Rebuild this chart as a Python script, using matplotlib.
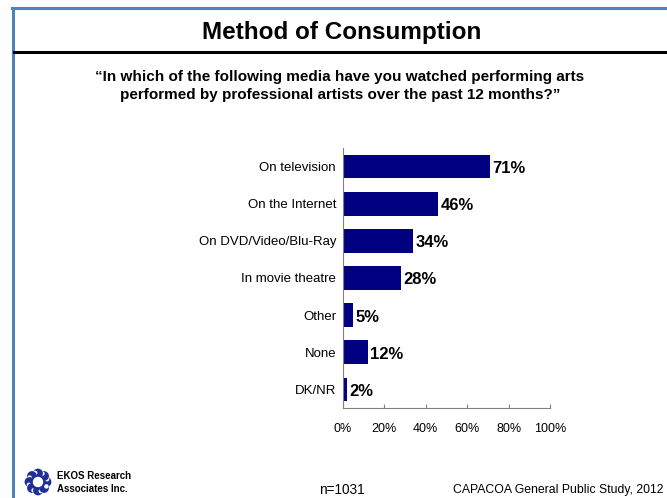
import numpy as np
import matplotlib
matplotlib.use("Agg")
import matplotlib.pyplot as plt
from matplotlib.lines import Line2D
from matplotlib.patches import Circle

plt.rcParams['font.family'] = ['Liberation Sans', 'DejaVu Sans']

# data
categories = ["On television", "On the Internet", "On DVD/Video/Blu-Ray",
              "In movie theatre", "Other", "None", "DK/NR"]
values = [71, 46, 34, 28, 5, 12, 2]
xticks = [0, 20, 40, 60, 80, 100]

W, H = 667, 498
fig = plt.figure(figsize=(W / 100, H / 100), dpi=100)
fig.patch.set_facecolor("white")


def fx(px):
    return px / W


def fy(py):
    return 1 - py / H


# frame lines
fig.add_artist(Line2D([fx(13), fx(13)], [fy(8.5), 0], color="#4F81BD", lw=2.2))
fig.add_artist(Line2D([fx(12), 1], [fy(8.5), fy(8.5)], color="#4F81BD", lw=2.2))
fig.add_artist(Line2D([fx(14), 1], [fy(52.5), fy(52.5)], color="black", lw=2.2))

fig.text(fx(342), fy(32), "Method of Consumption", ha="center", va="center",
         fontsize=17.5, fontweight="bold")
fig.text(fx(340), fy(86), "\u201cIn which of the following media have you watched performing arts\n"
         "performed by professional artists over the past 12 months?\u201d",
         ha="center", va="center", fontsize=11, fontweight="bold", linespacing=1.4)

ax = fig.add_axes([fx(343), fy(408), fx(207), 260 / H])
y = np.arange(len(categories))
ax.barh(y, values, height=0.64, color="#000080")
ax.set_xlim(0, 100)
ax.set_ylim(len(categories) - 0.5, -0.5)
ax.set_yticks(y)
ax.set_yticklabels(categories, fontsize=9.5)
ax.tick_params(axis="y", length=0, pad=5)
ax.set_xticks(xticks)
ax.set_xticklabels([f"{t}%" for t in xticks], fontsize=9)
ax.tick_params(axis="x", direction="in", length=3, color="#808080", pad=11)
for s in ["top", "right"]:
    ax.spines[s].set_visible(False)
for s in ["left", "bottom"]:
    ax.spines[s].set_color("#808080")
    ax.spines[s].set_linewidth(0.8)
for yi, v in zip(y, values):
    ax.text(v + 1.2, yi + 0.05, f"{v}%", va="center", ha="left",
            fontsize=12, fontweight="bold")

# footer
fig.text(fx(57), fy(476), "EKOS Research", fontsize=7, fontweight="bold", va="center")
fig.text(fx(57), fy(489), "Associates Inc.", fontsize=7, fontweight="bold", va="center")
fig.text(fx(319), fy(490), "n=1031", fontsize=9.8, va="center")
fig.text(fx(453), fy(490), "CAPACOA General Public Study, 2012", fontsize=8.8, va="center")

# logo: ring of blobs
lax = fig.add_axes([fx(24), fy(496), fx(28), 28 / H])
lax.set_xlim(-14, 14)
lax.set_ylim(-14, 14)
lax.set_aspect("equal")
lax.axis("off")
for a in np.linspace(0, 2 * np.pi, 8, endpoint=False):
    lax.add_patch(Circle((8.5 * np.cos(a), 8.5 * np.sin(a)), 4.2, color="#1F2F99"))
    lax.add_patch(Circle((9.5 * np.cos(a + 0.3), 9.5 * np.sin(a + 0.3)), 1.5, color="white"))
lax.add_patch(Circle((0, 0), 4.5, color="white"))

fig.savefig("out.png", dpi=100)
